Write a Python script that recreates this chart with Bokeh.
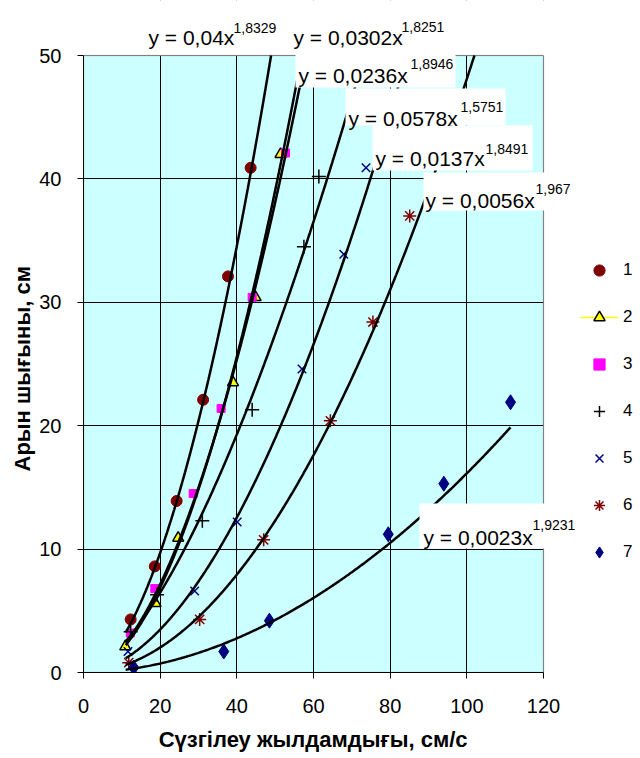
import numpy as np
from bokeh.plotting import figure
from bokeh.models import (Legend, LegendItem, Label, BoxAnnotation, Title,
                          SingleIntervalTicker, Range1d)
from bokeh.embed import file_html
from bokeh.resources import INLINE

# ---- data ----
x1 = [12.3, 18.6, 24.3, 31.2, 37.7, 43.6]
y1 = [4.3, 8.6, 13.9, 22.1, 32.1, 40.9]
x2 = [10.9, 18.8, 24.7, 39.0, 44.9, 51.4]
y2 = [2.1, 5.6, 10.9, 23.5, 30.4, 42.0]
x3 = [12.2, 18.6, 28.6, 35.9, 44.0, 52.7]
y3 = [3.2, 6.8, 14.5, 21.4, 30.4, 42.1]
x4 = [12.3, 19.2, 31.0, 44.0, 57.5, 61.4]
y4 = [3.3, 6.3, 12.3, 21.3, 34.5, 40.2]
x5 = [11.6, 29.0, 40.1, 57.0, 67.9, 73.7]
y5 = [1.7, 6.6, 12.2, 24.6, 33.9, 40.9]
x6 = [11.8, 30.3, 47.0, 64.4, 75.5, 85.1]
y6 = [0.8, 4.3, 10.75, 20.4, 28.4, 37.0]
x7 = [13.1, 36.6, 48.5, 79.5, 94.0, 111.4]
y7 = [0.4, 1.7, 4.2, 11.2, 15.3, 21.9]

# power trendlines y = a * x^b
coef_a = [0.04, 0.0302, 0.0236, 0.0578, 0.0137, 0.0056, 0.0023]
coef_b = [1.8329, 1.8251, 1.8946, 1.5751, 1.8491, 1.967, 1.9231]
eq_base = ["y = 0,04x", "y = 0,0302x", "y = 0,0236x", "y = 0,0578x",
           "y = 0,0137x", "y = 0,0056x", "y = 0,0023x"]
eq_sup = ["1,8329", "1,8251", "1,8946", "1,5751", "1,8491", "1,967", "1,9231"]
trend_start = 11.0
trend_end = 111.4

series_labels = ["1", "2", "3", "4", "5", "6", "7"]
x_title = "Сүзгілеу жылдамдығы, см/с"
y_title = "Арын шығыны, см"
x_min, x_max, x_step = 0, 120, 20
y_min, y_max, y_step = 0, 50, 10

FONT = "Liberation Sans"
W, H = 640, 758
FL, FB = 83, 86           # left / bottom border of the figure (px)
px_per_x = 460 / (x_max - x_min)
px_per_y = 617 / (y_max - y_min)
x_end_view = x_max + (W - FL - 460) / px_per_x   # frame extends to the right edge
y_end_view = y_max + (H - FB - 617) / px_per_y   # frame extends to the top edge

p = figure(width=W, height=H, x_range=Range1d(x_min, x_end_view),
           y_range=Range1d(y_min, y_end_view),
           output_backend="svg", toolbar_location=None,
           min_border_left=FL, min_border_right=0, min_border_top=0,
           min_border_bottom=FB)
p.background_fill_color = "white"
p.border_fill_color = "white"
p.outline_line_color = None

p.xaxis.ticker = SingleIntervalTicker(interval=x_step)
p.yaxis.ticker = SingleIntervalTicker(interval=y_step)
p.xaxis.bounds = (x_min, x_max)
p.yaxis.bounds = (y_min, y_max)
for ax in (p.xaxis[0], p.yaxis[0]):
    ax.axis_line_color = "black"
    ax.major_tick_line_color = "black"
    ax.major_tick_out = 6
    ax.major_tick_in = 0
    ax.minor_tick_line_color = None
    ax.major_label_text_font = FONT
    ax.major_label_text_font_size = "20px"
    ax.major_label_text_color = "black"
p.xaxis.major_label_standoff = 20
p.yaxis.major_label_standoff = 16

# x title: axis label, padded with no-break spaces so that it is centred
# under the plot area (the frame also covers the legend area on the right)
p.xaxis.axis_label = x_title + "\u00a0" * 16
p.xaxis.axis_label_text_font = FONT
p.xaxis.axis_label_text_font_size = "22px"
p.xaxis.axis_label_text_font_style = "bold"
p.xaxis.axis_label_text_color = "black"
p.xaxis.axis_label_standoff = 11

# y title: a side title, placed along the plot area
p.add_layout(Title(text=y_title, align="left", offset=201, standoff=4,
                   text_font=FONT, text_font_size="22px", text_font_style="bold",
                   text_color="black"), "left")

p.xgrid.grid_line_color = "black"
p.ygrid.grid_line_color = "black"
p.xgrid.grid_line_width = 1
p.ygrid.grid_line_width = 1

# plot area background (below grid) and white covers outside it (above grid)
p.add_layout(BoxAnnotation(left=x_min, right=x_max, bottom=y_min, top=y_max,
                           fill_color="#CCFFFF", fill_alpha=1.0, line_alpha=0,
                           level="image"))
p.add_layout(BoxAnnotation(bottom=y_max, fill_color="white", fill_alpha=1.0,
                           line_alpha=0, level="underlay"))
p.add_layout(BoxAnnotation(left=x_max, fill_color="white", fill_alpha=1.0,
                           line_alpha=0, level="underlay"))
p.add_layout(BoxAnnotation(left=x_min, right=x_max, bottom=y_min, top=y_max,
                           fill_alpha=0, line_color="#808080", line_width=1.5,
                           level="underlay"))

# markers
r1 = p.scatter(x1, y1, marker="circle", size=11, fill_color="#800000", line_color="#800000")
r2 = p.scatter(x2, y2, marker="triangle", size=11, fill_color="#FFFF00", line_color="black", line_width=1.5)
r3 = p.scatter(x3, y3, marker="square", size=8, fill_color="#FF00FF", line_color="#FF00FF")
r4 = p.scatter(x4, y4, marker="cross", size=14, line_color="black", line_width=1.5)
r5 = p.scatter(x5, y5, marker="x", size=12, line_color="#000080", line_width=1.5)
r6 = p.scatter(x6, y6, marker="asterisk", size=13, line_color="#800000", line_width=1.5)
r7 = p.scatter(x7, y7, marker="diamond", size=15, fill_color="#000080", line_color="#000080")
r2_line = p.line(x=[np.nan], y=[np.nan], line_color="#FFFF00", line_width=1.5)

# trendlines, ending at the top of the plot area
for a, b in zip(coef_a, coef_b):
    x_stop = min(trend_end, (y_max / a) ** (1.0 / b))
    xs = np.linspace(trend_start, x_stop, 300)
    p.line(xs, a * xs ** b, line_color="black", line_width=2.5)

# equation labels (positions in screen px relative to the plot frame, y up)
eq_layout = [
    # base_left, base_baseline, sup_left, sup_baseline, box(l, t, r, b)
    (65, 635, 150, 645, None),
    (210, 635, 318, 646, None),
    (215, 597, 327, 609, (212, 619, 372, 585)),
    (265, 554, 377, 566, (262, 584, 422, 547)),
    (292, 514, 402, 524, (289, 547, 449, 502)),
    (342, 472, 452, 484, (340, 500, 557, 462)),
    (340, 135, 449, 148, (336, 169, 557, 124)),
]
for (bl, bb, sl, sb, box) in eq_layout:
    if box is not None:
        p.add_layout(BoxAnnotation(left=box[0], right=box[2], top=box[1], bottom=box[3],
                                   left_units="screen", right_units="screen",
                                   top_units="screen", bottom_units="screen",
                                   fill_color="white", fill_alpha=1.0, line_alpha=0))
for i, (bl, bb, sl, sb, box) in enumerate(eq_layout):
    p.add_layout(Label(x=bl, y=bb, x_units="screen", y_units="screen", text=eq_base[i],
                       text_font=FONT, text_font_size="21px", text_color="black",
                       text_baseline="alphabetic", text_align="left"))
    p.add_layout(Label(x=sl, y=sb, x_units="screen", y_units="screen", text=eq_sup[i],
                       text_font=FONT, text_font_size="14px", text_color="black",
                       text_baseline="alphabetic", text_align="left"))

legend = Legend(items=[
    LegendItem(label=series_labels[0], renderers=[r1]),
    LegendItem(label=series_labels[1], renderers=[r2_line, r2]),
    LegendItem(label=series_labels[2], renderers=[r3]),
    LegendItem(label=series_labels[3], renderers=[r4]),
    LegendItem(label=series_labels[4], renderers=[r5]),
    LegendItem(label=series_labels[5], renderers=[r6]),
    LegendItem(label=series_labels[6], renderers=[r7]),
], location=(497, 106))
legend.border_line_alpha = 0
legend.background_fill_alpha = 0
legend.padding = 0
legend.margin = 0
legend.spacing = 19
legend.glyph_width = 38
legend.glyph_height = 28
legend.label_height = 28
legend.label_standoff = 5
legend.label_text_font = FONT
legend.label_text_font_size = "17px"
legend.label_text_color = "black"
p.add_layout(legend)

open("out.html", "w").write(file_html(p, INLINE))
